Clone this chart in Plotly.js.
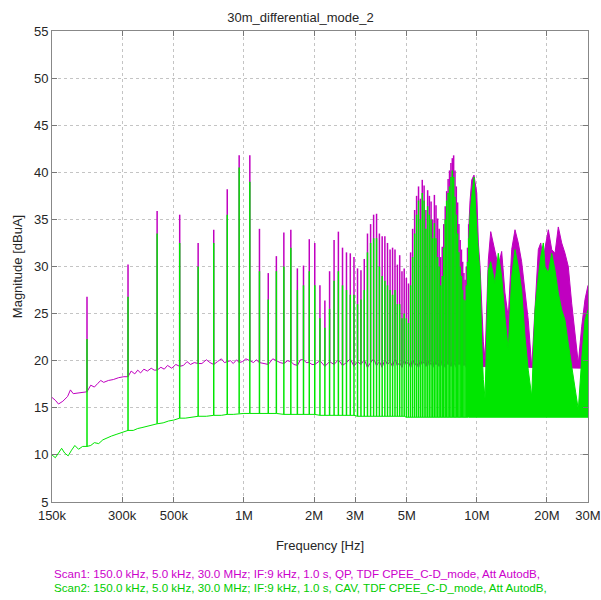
<!DOCTYPE html>
<html>
<head>
<meta charset="utf-8">
<script src="https://cdn.plot.ly/plotly-3.0.1.min.js"></script>
<style>
html,body{margin:0;padding:0;background:#fff;}
#chart{width:601px;height:600px;}
</style>
</head>
<body>
<div id="chart"></div>
<script>
// ---- data (frequencies in kHz / MHz, levels in dBuA) ----
const harmKHz = [212, 318, 424, 530, 636, 742, 848, 954, 1060, 1166,
  1272, 1378, 1484, 1590, 1696, 1802, 1908, 2014, 2120, 2226,
  2332, 2438, 2544, 2650, 2756, 2862, 2968, 3074, 3180, 3286,
  3392, 3498, 3604, 3710, 3816, 3922, 4028, 4134, 4240, 4346,
  4452, 4558, 4664, 4770, 4876, 4982, 5088, 5194, 5300, 5406,
  5512, 5618, 5724, 5830, 5936, 6042, 6148, 6254, 6360, 6466,
  6572, 6678, 6784, 6890, 6996, 7102, 7208, 7314, 7420, 7526,
  7632, 7738, 7844, 7950, 8056, 8162, 8268, 8374, 8480, 8586,
  8692, 8798, 8904, 9010, 9116, 9222];

const qpPeak = [26.8, 30.2, 35.9, 35.5, 32.5, 33.9, 38.2, 41.8, 41.8, 34.0,
  29.3, 31.1, 33.6, 33.9, 29.8, 30.1, 32.9, 32.5, 28.0, 26.4,
  29.5, 32.8, 33.7, 32.0, 31.5, 31.4, 31.0, 29.8, 29.6, 30.8,
  33.5, 34.5, 35.5, 35.6, 33.5, 33.2, 33.2, 32.5, 31.8, 32.0,
  31.8, 30.2, 31.2, 29.5, 29.8, 28.8, 28.2, 31.5, 34.0, 36.0,
  37.5, 38.5, 37.2, 39.2, 38.6, 36.0, 38.1, 37.5, 36.9, 35.0,
  37.6, 36.5, 35.1, 34.0, 31.0, 32.1, 34.5, 36.4, 38.0, 39.3,
  40.2, 41.0, 41.5, 41.8, 40.2, 38.5, 36.8, 34.5, 32.8, 31.8,
  30.5, 29.3, 28.6, 30.0, 32.0, 34.5];

const cavPeak = [22.3, 26.8, 33.5, 32.5, 30.0, 32.5, 35.5, 40.5, 39.0, 29.5,
  26.5, 29.5, 30.0, 32.0, 27.5, 28.0, 29.5, 28.0, 24.5, 23.5,
  25.5, 28.5, 29.5, 28.0, 27.5, 27.0, 27.0, 26.0, 26.5, 27.5,
  31.5, 32.5, 33.0, 33.0, 30.0, 29.0, 28.5, 28.0, 27.5, 27.0,
  27.5, 26.0, 26.0, 24.5, 25.0, 24.5, 24.0, 28.0, 31.0, 33.5,
  35.5, 37.0, 35.0, 37.8, 37.0, 34.0, 36.4, 35.5, 35.0, 33.0,
  34.6, 33.0, 31.0, 30.0, 28.0, 29.0, 32.0, 35.0, 37.0, 37.8,
  38.5, 39.5, 40.2, 39.5, 37.4, 35.5, 33.5, 31.5, 30.0, 29.0,
  27.5, 26.5, 26.4, 28.0, 30.5, 33.0];

const qpBase = [16.7, 18.3, 19.0, 19.4, 19.7, 19.6, 19.9, 19.8, 20.0, 19.8,
  19.6, 20.0, 19.7, 19.9, 19.5, 20.1, 19.8, 19.6, 20.0, 19.4,
  19.9, 19.6, 20.1, 19.5, 19.8, 20.2, 19.4, 19.9, 19.6, 20.1,
  19.3, 19.8, 20.2, 19.5, 19.9, 19.3, 20.1, 19.6, 19.9, 19.4,
  20.2, 19.5, 19.8, 19.3, 20.1, 19.6, 19.9, 19.3, 20.2, 19.5,
  19.8, 19.3, 20.1, 19.6, 19.9, 19.4, 20.2, 19.5, 19.8, 19.3,
  20.1, 19.6, 19.9, 19.4, 20.2, 19.5, 19.8, 19.3, 20.1, 19.6,
  19.9, 19.4, 20.1, 19.5, 19.8, 19.3, 20.0, 19.6, 19.9, 19.4,
  20.0, 19.5, 19.8, 19.3, 19.9, 19.5];

const cavBase = [10.9, 12.6, 13.3, 13.9, 14.1, 14.2, 14.3, 14.4, 14.4, 14.4,
  14.4, 14.4, 14.3, 14.3, 14.3, 14.3, 14.3, 14.3, 14.2, 14.2,
  14.2, 14.2, 14.2, 14.2, 14.2, 14.2, 14.2, 14.1, 14.1, 14.1,
  14.1, 14.1, 14.1, 14.1, 14.1, 14.1, 14.1, 14.1, 14.1, 14.1,
  14.1, 14.1, 14.1, 14.1, 14.1, 14.0, 14.0, 14.0, 14.0, 14.0,
  14.0, 14.0, 14.0, 14.0, 14.0, 14.0, 14.0, 14.0, 14.0, 14.0,
  14.0, 14.0, 14.0, 14.0, 14.0, 14.0, 14.0, 14.0, 14.0, 14.0,
  14.0, 14.0, 14.0, 14.0, 14.0, 14.0, 14.0, 14.0, 14.0, 14.0,
  14.0, 14.0, 14.0, 14.0, 14.0, 14.0];

// noise floor between harmonics
const qpFloorKHz = [150, 155, 160, 167, 175, 180, 185, 195, 205,
  220, 228, 236, 243, 250, 262, 275, 290, 305,
  328, 340, 350, 360, 372, 385, 400, 412,
  440, 455, 470, 490, 510, 550, 570, 590, 612,
  660, 690, 715, 770, 800, 825, 875, 900, 930,
  985, 1020, 1100, 1130, 1220, 1330, 1430, 1540, 1640, 1750, 1850, 1960];
const qpFloor = [16.1, 15.8, 15.4, 15.7, 16.2, 16.9, 16.5, 16.6, 16.7,
  17.4, 17.2, 17.6, 17.9, 17.7, 17.9, 18.0, 18.2, 18.3,
  18.9, 18.6, 19.0, 18.7, 19.1, 18.9, 19.2, 19.0,
  19.3, 19.1, 19.5, 19.2, 19.6, 19.5, 19.9, 19.6, 19.8,
  19.7, 20.1, 19.8, 19.9, 20.2, 19.8, 20.0, 19.7, 20.1,
  19.9, 20.2, 19.8, 20.1, 19.7, 20.2, 19.8, 20.0, 19.6, 20.1, 19.8, 19.6];

const cavFloorKHz = [150, 155, 160, 165, 170, 176, 182, 188, 195, 203,
  220, 228, 238, 248, 258, 270, 285, 300,
  335, 350, 365, 380, 400, 450, 475, 500, 560, 600, 690, 800, 900, 1000];
const cavFloor = [10.0, 9.7, 10.2, 10.7, 10.2, 9.9, 10.5, 11.0, 10.6, 10.9,
  11.0, 11.3, 11.2, 11.6, 11.8, 12.0, 12.2, 12.4,
  12.6, 12.8, 12.9, 13.0, 13.2, 13.4, 13.6, 13.7, 13.9, 14.0, 14.1, 14.2, 14.3, 14.4];

// dense region above ~9.2 MHz: envelopes
const denseMHz = [9.25, 9.35, 9.51, 9.72, 9.99, 10.15, 10.32, 10.49, 10.66, 10.84,
  11.02, 11.2, 11.47, 11.96, 12.36, 12.78, 13.2, 13.64, 14.11, 14.58,
  15.06, 15.57, 16.09, 16.62, 17.2, 17.77, 18.36, 18.8, 19.29, 19.62,
  20.27, 20.96, 21.65, 22.37, 23.13, 23.9, 24.69, 25.53, 26.38, 27.26,
  28.18, 29.12, 30.0];
const qpEnv = [34.5, 37.0, 39.2, 39.7, 37.8, 32.5, 30.0, 25.4, 22.0, 20.1,
  27.0, 30.7, 33.7, 31.4, 30.0, 31.6, 27.2, 24.6, 31.8, 33.9,
  32.5, 30.5, 27.0, 24.3, 19.3, 25.4, 31.8, 32.5, 30.7, 32.0,
  33.9, 31.8, 31.4, 34.2, 32.5, 31.4, 30.0, 26.1, 22.6, 19.7,
  23.6, 26.5, 28.0];
const cavEnv = [33.0, 35.5, 37.5, 39.5, 34.0, 31.0, 29.0, 22.0, 18.0, 16.0,
  22.0, 29.6, 30.5, 28.2, 31.4, 28.9, 24.7, 21.1, 28.9, 31.8,
  30.0, 27.5, 22.6, 19.0, 16.2, 25.4, 28.9, 31.0, 32.5, 30.0,
  29.3, 31.4, 29.6, 27.2, 25.4, 24.3, 21.8, 19.4, 17.2, 14.8,
  20.1, 24.3, 25.4];
const denseEdgeMHz = [9.25, 30.0];
const qpDenseFloor = [19.4, 19.2];
const cavDenseFloor = [14.0, 14.0];

const tickHz = [150e3, 300e3, 500e3, 1e6, 2e6, 3e6, 5e6, 10e6, 20e6, 30e6];
const tickText = ['150k', '300k', '500k', '1M', '2M', '3M', '5M', '10M', '20M', '30M'];
const yTicks = [5, 10, 15, 20, 25, 30, 35, 40, 45, 50, 55];

const scan1Text = 'Scan1: 150.0 kHz, 5.0 kHz, 30.0 MHz; IF:9 kHz, 1.0 s, QP, TDF CPEE_C-D_mode, Att AutodB,';
const scan2Text = 'Scan2: 150.0 kHz, 5.0 kHz, 30.0 MHz; IF:9 kHz, 1.0 s, CAV, TDF CPEE_C-D_mode, Att AutodB,';

// ---- build ----
const MAG = '#C000C0', GRN = '#00E600';

// floor line through noise points and the spike feet
function buildFloor(floorK, floorV, hK, base) {
  const pts = [];
  floorK.forEach((f, i) => pts.push([f, floorV[i]]));
  hK.forEach((f, i) => pts.push([f, base[i]]));
  pts.sort((a, b) => a[0] - b[0]);
  return {x: pts.map(p => p[0] * 1e3), y: pts.map(p => p[1])};
}
// vertical spike segments from foot to peak
function buildSpikes(hK, base, peak) {
  const x = [], y = [];
  hK.forEach((f, i) => { x.push(f * 1e3, f * 1e3, null); y.push(base[i], peak[i], null); });
  return {x: x, y: y};
}

const qpF = buildFloor(qpFloorKHz, qpFloor, harmKHz, qpBase);
const qpS = buildSpikes(harmKHz, qpBase, qpPeak);
const cavF = buildFloor(cavFloorKHz, cavFloor, harmKHz, cavBase);
const cavS = buildSpikes(harmKHz, cavBase, cavPeak);
const mhz = a => a.map(v => v * 1e6);

const traces = [
  {x: qpF.x, y: qpF.y, type: 'scatter', mode: 'lines', line: {color: MAG, width: 1}, hoverinfo: 'skip'},
  {x: qpS.x, y: qpS.y, type: 'scatter', mode: 'lines', connectgaps: false, line: {color: MAG, width: 1.5}, hoverinfo: 'skip'},
  {x: mhz(denseEdgeMHz), y: qpDenseFloor, type: 'scatter', mode: 'lines', line: {color: MAG, width: 1}, hoverinfo: 'skip'},
  {x: mhz(denseMHz), y: qpEnv, type: 'scatter', mode: 'lines', fill: 'tonexty', fillcolor: MAG, line: {color: MAG, width: 1}, hoverinfo: 'skip'},
  {x: cavF.x, y: cavF.y, type: 'scatter', mode: 'lines', line: {color: GRN, width: 1}, hoverinfo: 'skip'},
  {x: cavS.x, y: cavS.y, type: 'scatter', mode: 'lines', connectgaps: false, line: {color: GRN, width: 1.5}, hoverinfo: 'skip'},
  {x: mhz(denseEdgeMHz), y: cavDenseFloor, type: 'scatter', mode: 'lines', line: {color: GRN, width: 1}, hoverinfo: 'skip'},
  {x: mhz(denseMHz), y: cavEnv, type: 'scatter', mode: 'lines', fill: 'tonexty', fillcolor: GRN, line: {color: GRN, width: 1}, hoverinfo: 'skip'}
];

const FONT = 'Liberation Sans, Arial, sans-serif';
const layout = {
  width: 601, height: 600,
  margin: {l: 52, r: 13, t: 31, b: 98},
  paper_bgcolor: '#ffffff', plot_bgcolor: '#ffffff',
  showlegend: false,
  font: {family: FONT, size: 13, color: '#262626'},
  title: {text: '30m_differential_mode_2', font: {family: FONT, size: 13, color: '#262626'},
          x: 0.5, xanchor: 'center', y: 1 - 17 / 600, yanchor: 'middle', yref: 'container'},
  xaxis: {
    type: 'log', range: [Math.log10(150e3), Math.log10(30e6)],
    tickvals: tickHz, ticktext: tickText,
    ticks: 'inside', ticklen: 5, tickcolor: '#777', mirror: 'ticks',
    ticklabelstandoff: 1,
    showline: true, linecolor: '#888', linewidth: 1,
    showgrid: true, gridcolor: '#c4c4c4', griddash: 'dot', gridwidth: 1,
    zeroline: false,
    tickfont: {family: FONT, size: 13, color: '#262626'},
    title: {text: 'Frequency [Hz]', font: {family: FONT, size: 13, color: '#262626'}, standoff: 19}
  },
  yaxis: {
    range: [5, 55], tickvals: yTicks,
    ticks: 'inside', ticklen: 5, tickcolor: '#777', mirror: 'ticks',
    showline: true, linecolor: '#888', linewidth: 1,
    showgrid: true, gridcolor: '#c4c4c4', griddash: 'dot', gridwidth: 1,
    zeroline: false,
    tickfont: {family: FONT, size: 13, color: '#262626'},
    title: {text: 'Magnitude [dBuA]', font: {family: FONT, size: 13, color: '#262626'}, standoff: 8}
  },
  annotations: [
    {text: scan1Text, xref: 'paper', yref: 'paper', x: 0, y: -(573 - 502) / 471, xanchor: 'left', yanchor: 'middle',
     showarrow: false, font: {family: FONT, size: 11.6, color: '#CC00CC'}},
    {text: scan2Text, xref: 'paper', yref: 'paper', x: 0, y: -(587 - 502) / 471, xanchor: 'left', yanchor: 'middle',
     showarrow: false, font: {family: FONT, size: 11.6, color: '#00CC00'}}
  ]
};

Plotly.newPlot('chart', traces, layout, {staticPlot: true, displayModeBar: false});
</script>
</body>
</html>
